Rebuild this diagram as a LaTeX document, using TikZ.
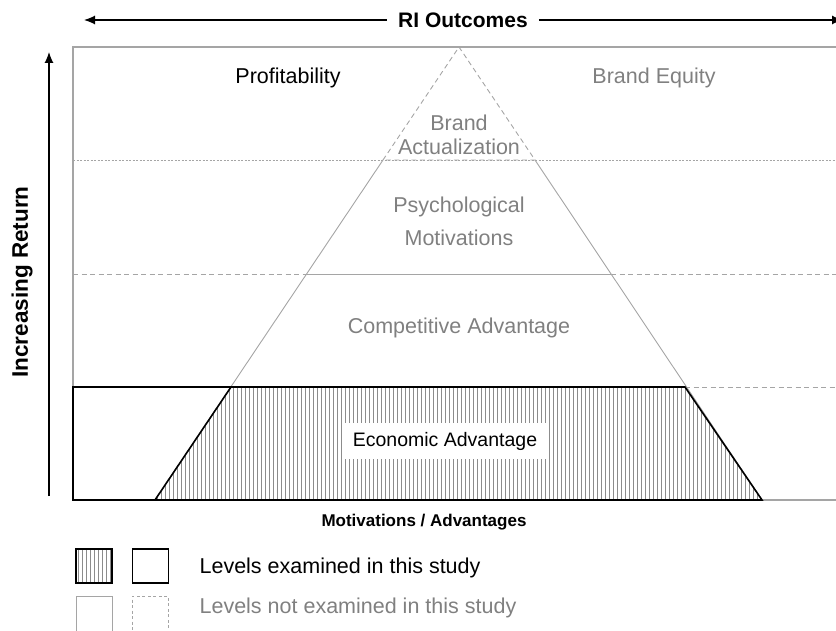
\documentclass[tikz,border=0pt]{standalone}
\usepackage{fontspec}
\setmainfont{Liberation Sans}
\usetikzlibrary{arrows.meta,positioning}

\definecolor{txtgray}{RGB}{128,128,128}
\definecolor{linegray}{RGB}{165,165,165}
\definecolor{hatchgray}{RGB}{140,140,140}

\begin{document}
\begin{tikzpicture}[x=1pt,y=-1pt,>={Latex[length=11pt,width=9pt]},
    lbl/.style={inner sep=0pt,font=\fontsize{21.5}{25}\selectfont},
    hdr/.style={inner sep=0pt,font=\fontsize{21}{25}\selectfont\bfseries},
    dim/.style={lbl,text=txtgray},
    frame/.style={draw=linegray,line width=1.2pt},
    thin/.style={draw=linegray,line width=0.9pt},
    dotline/.style={thin,dash pattern=on 2pt off 1.5pt},
    dashline/.style={thin,dash pattern=on 5pt off 3.5pt},
    hatchline/.style={draw=hatchgray,line width=0.9pt},
    keyhatch/.style={path picture={
        \foreach \dx in {-16,-12,...,16}
          \draw[hatchline] ([xshift=\dx pt]path picture bounding box.north) -- ([xshift=\dx pt]path picture bounding box.south);}},
    keybox/.style={minimum width=36pt,minimum height=34pt,inner sep=0pt}]
    \useasboundingbox (0,0) rectangle (836,631);

    % axes
    \node[hdr,fill=white,inner xsep=11pt] (outc) at (463,20) {RI Outcomes};
    \coordinate (outl) at (84,20);
    \coordinate (outr) at (843,20);
    \draw[<-,line width=1.2pt] (outl) -- (outc.west);
    \draw[->,line width=1.2pt] (outc.east) -- (outr);
    \coordinate (retb) at (49,496);
    \coordinate (rett) at (49,52);
    \draw[->,line width=1.2pt] (retb) -- (rett);
    \node[hdr,rotate=90,font=\fontsize{22.5}{25}\selectfont\bfseries] (ret) at (22,282) {Increasing Return};

    % frame and levels
    \coordinate (apex) at (459,47);
    \coordinate (bl) at (155,500);
    \coordinate (br) at (762,500);
    \coordinate (al) at (383,160);  \coordinate (ar) at (535,160);
    \coordinate (ml) at (307,274);  \coordinate (mr) at (611,274);
    \coordinate (cl) at (231,387);  \coordinate (cr) at (685,387);
    \draw[frame] (840,47) -- (73,47) -- (73,500) -- (840,500);
    \draw[dotline] (73,160) -- (840,160);
    \draw[dashline] (73,274) -- (ml);
    \draw[thin] (ml) -- (mr);
    \draw[dashline] (mr) -- (840,274);
    \draw[dashline] (cr) -- (840,387);
    \draw[dashline] (al) -- (apex) -- (ar) -- cycle;
    \draw[thin] (al) -- (bl);
    \draw[thin] (ar) -- (br);

    % economic level
    \begin{scope}
      \clip (bl) -- (cl) -- (cr) -- (br) -- cycle;
      \foreach \x in {157,161,...,761}
        \draw[hatchline] (\x,387) -- (\x,500);
    \end{scope}
    \draw[line width=1.6pt] (73,387) -- (cr) -- (br) -- (73,500) -- cycle;
    \draw[line width=1.6pt] (bl) -- (cl);

    % labels
    \node[lbl] (prof) at (288,78) {Profitability};
    \node[dim] (equity) at (654,78) {Brand Equity};
    \node[dim,align=center] (actual) at (459,135) {Brand\\[-1pt]Actualization};
    \node[dim,align=center] (psych) at (459,221) {Psychological\\[8pt]Motivations};
    \node[dim] (comp) at (459,328) {Competitive Advantage};
    \node[lbl,font=\fontsize{19.5}{23}\selectfont,fill=white,inner xsep=11pt,inner ysep=9pt] (econ) at (445,441) {Economic Advantage};
    \node[hdr,font=\fontsize{17}{20}\selectfont\bfseries] (motiv) at (424,522) {Motivations / Advantages};

    % key
    \node[keybox,draw,line width=1.6pt,keyhatch] (keya) at (94,566) {};
    \node[keybox,draw,line width=1.6pt,right=19pt of keya] (keyb) {};
    \node[keybox,draw=linegray,line width=1pt,minimum height=40pt] (keyc) at (94,616) {};
    \node[keybox,draw=linegray,line width=1pt,dash pattern=on 3pt off 2.5pt,minimum height=40pt,right=19pt of keyc] (keyd) {};
    \node[lbl,anchor=west] (keytxta) at ([xshift=30pt]keyb.east |- 0,568) {Levels examined in this study};
    \node[dim,anchor=west] (keytxtb) at (keytxta.west |- 0,608) {Levels not examined in this study};
\end{tikzpicture}
\end{document}
